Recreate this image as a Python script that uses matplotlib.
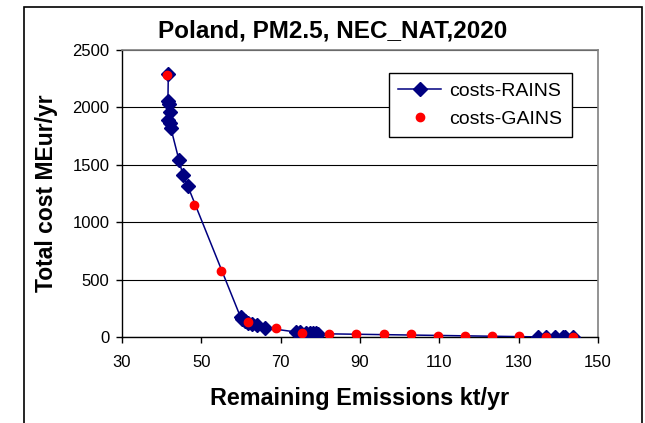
import matplotlib.pyplot as plt
from matplotlib.patches import Rectangle

plt.rcParams['font.family'] = ['Liberation Sans', 'DejaVu Sans']

# RAINS cost curve (emissions kt/yr, cost MEur/yr)
rains_x = [41.7, 41.6, 41.8, 42.1, 41.7, 42.2, 42.35, 44.4, 45.4, 46.6,
           59.9, 60.4, 61.0, 61.8, 62.8, 64.0, 66.0,
           74.0, 74.8, 76.5, 77.5, 78.2, 79.0, 79.5,
           135.0, 137.0, 139.2, 141.2, 141.6, 143.8]
rains_y = [2290, 2057, 2030, 1963, 1891, 1862, 1818, 1539, 1408, 1315,
           175, 160, 140, 122, 110, 102, 82,
           44, 42, 38, 36, 35, 33, 30,
           2, 2, 1, 1, 1, 0]

# GAINS points
gains_x = [41.3, 48.2, 55.0, 61.8, 68.8, 75.5, 82.3, 89.0, 96.0, 102.9,
           109.6, 116.4, 123.4, 130.1, 136.9, 143.6]
gains_y = [2284, 1146, 576, 131, 79, 35, 23, 23, 23, 23,
           12, 12, 10, 6, 2, 0]

fig = plt.figure(figsize=(6.45, 4.23), dpi=100)
ax = fig.add_axes([0.189, 0.203, 0.738, 0.679])

# outer chart frame
fig.patches.append(Rectangle((24 / 645, -0.05), (642 - 24) / 645, 1.05 - 7 / 423,
                             transform=fig.transFigure, fill=False,
                             edgecolor='black', linewidth=1.2, clip_on=False))

ax.plot(rains_x, rains_y, color='#000080', linewidth=1.1, marker='D',
        markersize=7.5, markerfacecolor='#000080', markeredgecolor='#000080',
        label='costs-RAINS', zorder=3)
ax.plot(gains_x, gains_y, linestyle='none', marker='o', markersize=6,
        color='#ff0000', label='costs-GAINS', zorder=4)

ax.set_xlim(30, 150)
ax.set_ylim(0, 2500)
ax.set_xticks(range(30, 151, 20))
ax.set_yticks(range(0, 2501, 500))
ax.yaxis.grid(True, color='black', linewidth=0.8)
ax.set_axisbelow(True)

for s in ['top', 'right']:
    ax.spines[s].set_color('#808080')
    ax.spines[s].set_linewidth(1.2)
for s in ['left', 'bottom']:
    ax.spines[s].set_color('black')
    ax.spines[s].set_linewidth(1.0)

ax.tick_params(axis='both', direction='out', length=4, width=1,
               labelsize=12, pad=5)
ax.tick_params(axis='x', pad=9)

# title centred on the whole chart frame
fig.text(0.515, 1 - 31 / 423, 'Poland, PM2.5, NEC_NAT,2020', fontsize=17.5,
         fontweight='bold', ha='center', va='center')
ax.set_xlabel('Remaining Emissions kt/yr', fontsize=16.8, fontweight='bold', labelpad=12)
ax.set_ylabel('Total cost MEur/yr', fontsize=16.5, fontweight='bold', labelpad=10)

leg = ax.legend(loc='upper right', bbox_to_anchor=(0.945, 0.92), fontsize=14,
                frameon=True, fancybox=False, framealpha=1, edgecolor='black',
                borderaxespad=0, borderpad=0.5, labelspacing=0.5,
                handlelength=2.2, handletextpad=0.4)
leg.get_frame().set_linewidth(1.0)

fig.savefig('out.png', dpi=100)
